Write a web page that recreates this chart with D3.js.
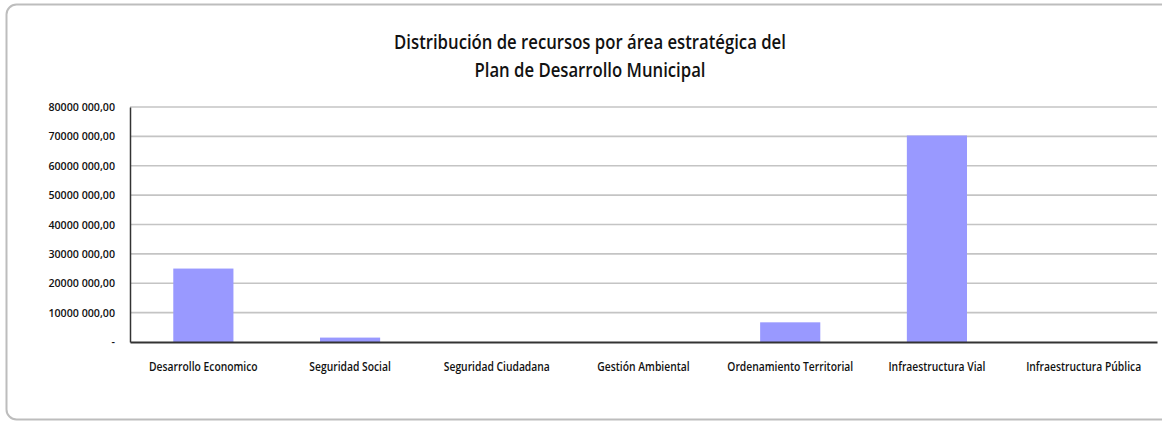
<!DOCTYPE html>
<html>
<head>
<meta charset="utf-8">
<script src="https://cdn.jsdelivr.net/npm/d3@7"></script>
<style>
  body { margin: 0; background: #fff; }
  svg text { font-family: "Open Sans", sans-serif; fill: #111; }
</style>
</head>
<body>
<div id="chart"></div>
<script>
// datos del grafico
var categories = ["Desarrollo Economico", "Seguridad Social", "Seguridad Ciudadana",
  "Gestión Ambiental", "Ordenamiento Territorial", "Infraestructura Vial", "Infraestructura Pública"]
var values = [25000000, 1500000, 0, 0, 6700000, 70300000, 0]
var yTicks = [0, 10000000, 20000000, 30000000, 40000000, 50000000, 60000000, 70000000, 80000000]
var yTickLabels = ["-", "10000 000,00", "20000 000,00", "30000 000,00", "40000 000,00",
  "50000 000,00", "60000 000,00", "70000 000,00", "80000 000,00"]
var titleLines = ["Distribución de recursos por área estratégica del", "Plan de Desarrollo Municipal"]

var width = 1162
var height = 422
var margin = {top: 107, right: 5, bottom: 80, left: 130}
var plotW = width - margin.left - margin.right
var plotH = height - margin.top - margin.bottom
// la fuente del original es estrecha, se comprime horizontalmente
var squeeze = 0.86
var squeezeY = 0.97

var svg = d3.select("#chart")
    .append("svg")
    .attr("width", width)
    .attr("height", height)

// marco redondeado
svg.append("rect")
    .attr("x", 6.5)
    .attr("y", 4.5)
    .attr("width", 1170)
    .attr("height", 415)
    .attr("rx", 10)
    .attr("fill", "none")
    .attr("stroke", "#bdbdbd")
    .attr("stroke-width", 2)

// titulo
svg.append("g")
    .attr("transform", "translate(590,0) scale(0.88,1)")
  .selectAll("text")
    .data(titleLines)
    .enter()
    .append("text")
    .attr("x", 0)
    .attr("y", function(d, i) { return 49 + i * 28 })
    .attr("text-anchor", "middle")
    .style("font-size", "19px")
    .style("font-weight", "600")
    .text(function(d) { return d })

var g = svg.append("g")
    .attr("transform", "translate(" + margin.left + "," + margin.top + ")")

var xScale = d3.scaleBand()
    .range([0, plotW])
    .domain(categories)
    .paddingInner(0.59)
    .paddingOuter(0.295)

var yScale = d3.scaleLinear()
    .range([plotH, 0])
    .domain([0, 80000000])

// lineas de cuadricula
g.append("g").attr("class", "grid")
  .selectAll("line")
    .data(yTicks.slice(1))
    .enter()
    .append("line")
    .attr("x1", 0)
    .attr("x2", plotW)
    .attr("y1", function(d) { return yScale(d) })
    .attr("y2", function(d) { return yScale(d) })
    .attr("stroke", "#c4c4c4")
    .attr("stroke-width", 1.6)

// barras
g.append("g").attr("class", "bars").selectAll("rect")
    .data(values)
    .enter()
    .append("rect")
    .attr("x", function(d, i) { return xScale(categories[i]) })
    .attr("y", function(d) { return yScale(d) })
    .attr("width", xScale.bandwidth())
    .attr("height", function(d) { return plotH - yScale(d) })
    .attr("fill", "#9999ff")

// eje y
var yAxis = g.append("g")
    .attr("class", "y-axis")
    .call(d3.axisLeft(yScale).tickValues(yTicks).tickSize(0).tickPadding(15)
      .tickFormat(function(d, i) { return yTickLabels[i] }))
yAxis.select(".domain").attr("stroke", "#333").attr("stroke-width", 1.5)
yAxis.selectAll("text")
    .style("font-size", "11px")
    .style("font-weight", "600")
    .attr("x", -15 / squeezeY)
    .attr("transform", "scale(" + squeezeY + ",1)")

// eje x
var xAxis = g.append("g")
    .attr("class", "x-axis")
    .attr("transform", "translate(0," + plotH + ")")
    .call(d3.axisBottom(xScale).tickSize(0).tickPadding(20))
xAxis.select(".domain").attr("stroke", "#333").attr("stroke-width", 2.2)
xAxis.selectAll("text")
    .style("font-size", "12px")
    .style("font-weight", "600")
    .attr("transform", "scale(" + squeeze + ",1)")
</script>
</body>
</html>
